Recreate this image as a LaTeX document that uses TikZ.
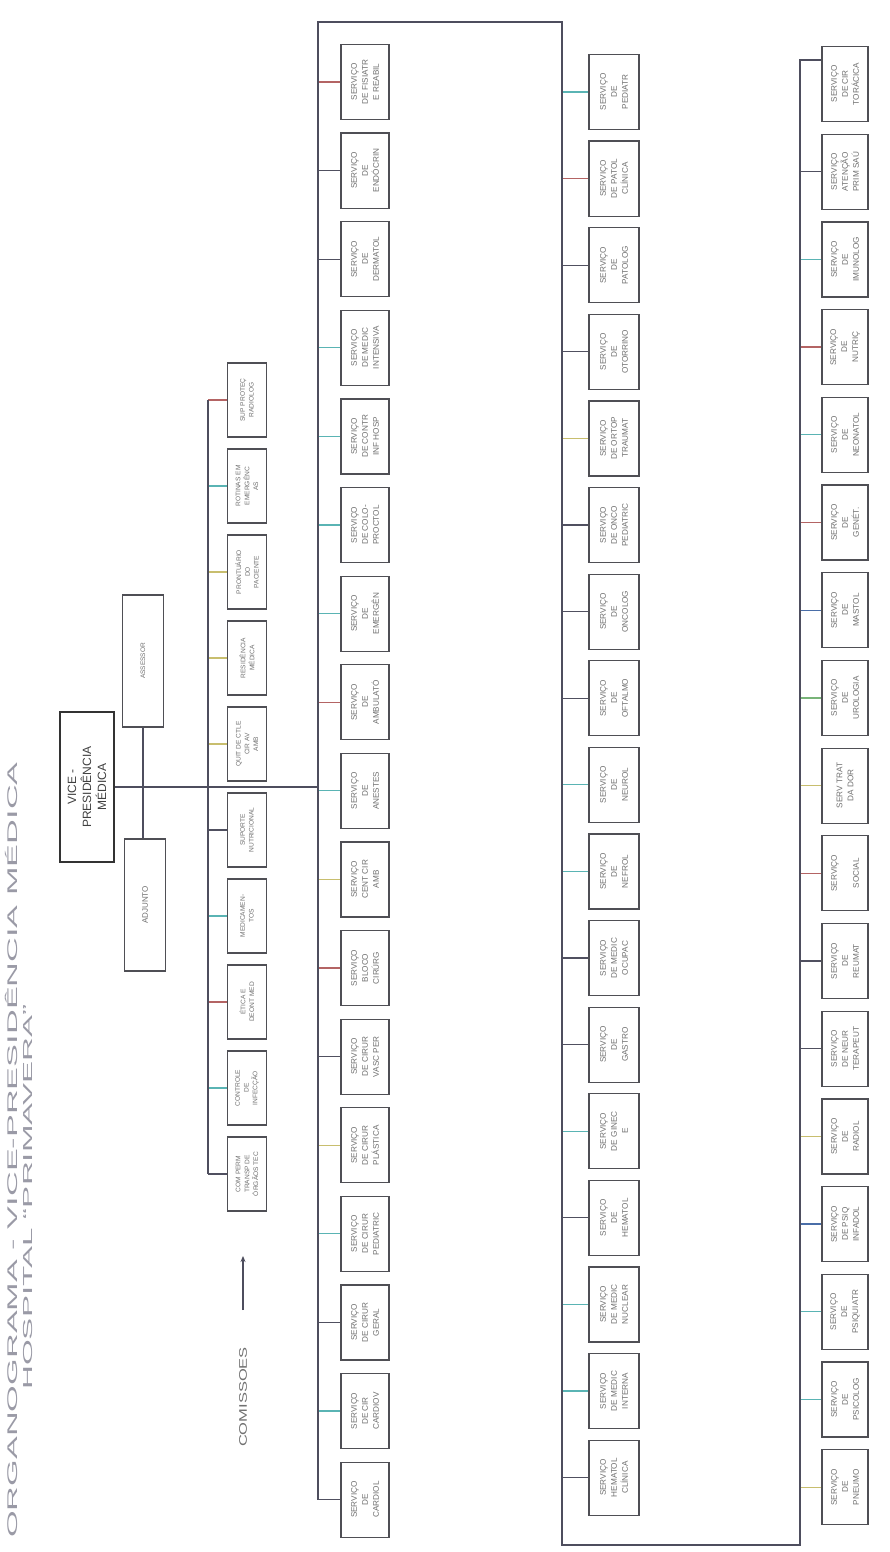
\documentclass[tikz,border=0pt]{standalone}
\usepackage{fontspec}
\setmainfont{Liberation Sans}
\usepackage{graphicx}
\usetikzlibrary{arrows.meta}
\definecolor{cT}{HTML}{5AB4B4}
\definecolor{cR}{HTML}{B46464}
\definecolor{cY}{HTML}{C8BE6E}
\definecolor{cD}{HTML}{505060}
\definecolor{cB}{HTML}{4A6EA8}
\definecolor{cG}{HTML}{78B478}
\definecolor{boxc}{HTML}{4F4F55}
\definecolor{txtc}{HTML}{707070}
\definecolor{lnc}{HTML}{4E4E5E}
\definecolor{titc}{HTML}{9A9AA6}
\begin{document}
\begin{tikzpicture}[x=1pt,y=-1pt,
 every node/.style={inner sep=0pt},
 box/.style={draw=boxc, line width=1.2pt, rotate=90, align=center, text=txtc, font=\fontsize{8.2}{11}\selectfont, minimum width=75pt, minimum height=46pt},
 cbox/.style={box, minimum width=74pt, minimum height=39pt, font=\fontsize{6.6}{8.8}\selectfont},
 trunk/.style={draw=lnc, line width=1.3pt},
 stub/.style={line width=1.3pt}]
\fill[white] (0,0) rectangle (890,1552);
\useasboundingbox (0,0) rectangle (890,1552);

% title
\node[rotate=90, text=titc, font=\fontsize{14}{14}\selectfont] (title1) at (11,1150) {\scalebox{2.45}[1]{ORGANOGRAMA - VICE-PRESIDÊNCIA MÉDICA}};
\node[rotate=90, text=titc, font=\fontsize{13}{13}\selectfont] (title2) at (28,1197) {\scalebox{2.55}[1]{HOSPITAL “PRIMAVERA”}};

% top management
\node[box, line width=2.4pt, draw=black!80, text=black!75, minimum width=150pt, minimum height=54pt, font=\fontsize{12}{15}\selectfont] (vp) at (87,787) {VICE -\\PRESIDÊNCIA\\MÉDICA};
\node[box, minimum width=132pt, minimum height=41pt, font=\fontsize{6.5}{8}\selectfont] (ass) at (143,661) {ASSESSOR};
\node[box, minimum width=132pt, minimum height=41pt, font=\fontsize{8}{10}\selectfont] (adj) at (145,905) {ADJUNTO};
\draw[trunk] (ass.west) -- (ass.west |- adj.east);

% coordinates of the trunks
\coordinate (cbar) at (208,400);
\coordinate (t1) at (318,22);
\coordinate (t2) at (562,22);
\coordinate (b2) at (562,1545);
\coordinate (b3) at (800,1545);
\coordinate (t3) at (800,60);

\draw[trunk] (vp.south) -- (vp.south -| t1);

% commissions
\foreach \ii/\txt/\col in {1/SUP PROTEÇ\\RADIOLOG/cR, 2/ROTINAS EM\\EMERGÊNC\\AS/cT, 3/PRONTUÁRIO\\DO\\PACIENTE/cY, 4/RESIDÊNCIA\\MÉDICA/cY, 5/QUIT DE CTLE\\CIR AV\\AMB/cY, 6/SUPORTE\\NUTRICIONAL/cD, 7/MEDICAMEN-\\TOS/cT, 8/ÉTICA E\\DEONT MED/cR, 9/CONTROLE\\DE\\INFECÇÃO/cT, 10/COM PERM\\TRANSP DE\\ÓRGÃOS TEC/cD}{
  \pgfmathsetmacro\yy{400+86*(\ii-1)}
  \node[cbox] (cm\ii) at (247,\yy) {\txt};
  \draw[stub, draw=\col] (cm\ii.north -| cbar) -- (cm\ii.north);
}
\draw[trunk] (cm1.north -| cbar) -- (cm10.north -| cbar);

\node[rotate=90, text=txtc, font=\fontsize{11}{11}\selectfont] (com) at (243,1397) {\scalebox{1.5}[1]{COMISSOES}};
\coordinate (arrtail) at (243,1310);
\coordinate (arrtip) at (243,1256);
\draw[line width=1.2pt, draw=lnc, -{Stealth[length=6pt,width=5pt]}] (arrtail) -- (arrtip);

% row 1
\foreach \ii/\txt/\col in {1/SERVIÇO\\DE FISIATR\\E REABIL/cR, 2/SERVIÇO\\DE\\ENDÓCRIN/cD, 3/SERVIÇO\\DE\\DERMATOL/cD, 4/SERVIÇO\\DE MEDIC\\INTENSIVA/cT, 5/SERVIÇO\\DE CONTR\\INF HOSP/cT, 6/SERVIÇO\\DE COLO-\\PROCTOL/cT, 7/SERVIÇO\\DE\\EMERGÊN/cT, 8/SERVIÇO\\DE\\AMBULATÓ/cR, 9/SERVIÇO\\DE\\ANESTES/cT, 10/SERVIÇO\\CENT CIR\\AMB/cY, 11/SERVIÇO\\BLOCO\\CIRÚRG/cR, 12/SERVIÇO\\DE CIRUR\\VASC PER/cD, 13/SERVIÇO\\DE CIRUR\\PLÁSTICA/cY, 14/SERVIÇO\\DE CIRUR\\PEDIATRIC/cT, 15/SERVIÇO\\DE CIRUR\\GERAL/cD, 16/SERVIÇO\\DE CIR\\CARDIOV/cT, 17/SERVIÇO\\DE\\CARDIOL/cD}{
  \pgfmathsetmacro\yy{82+88.6*(\ii-1)}
  \node[box, minimum height=48pt] (ra\ii) at (365,\yy) {\txt};
  \draw[stub, draw=\col] (ra\ii.north -| t1) -- (ra\ii.north);
}

% row 2
\foreach \ii/\txt/\col in {1/SERVIÇO\\DE\\PEDIATR/cT, 2/SERVIÇO\\DE PATOL\\CLÍNICA/cR, 3/SERVIÇO\\DE\\PATOLOG/cD, 4/SERVIÇO\\DE\\OTORRINO/cD, 5/SERVIÇO\\DE ORTOP\\TRAUMAT/cY, 6/SERVIÇO\\DE ONCO\\PEDIATRIC/cD, 7/SERVIÇO\\DE\\ONCOLOG/cD, 8/SERVIÇO\\DE\\OFTALMO/cD, 9/SERVIÇO\\DE\\NEUROL/cT, 10/SERVIÇO\\DE\\NEFROL/cT, 11/SERVIÇO\\DE MEDIC\\OCUPAC/cD, 12/SERVIÇO\\DE\\GASTRO/cD, 13/SERVIÇO\\DE GINEC\\E/cT, 14/SERVIÇO\\DE\\HEMATOL/cD, 15/SERVIÇO\\DE MEDIC\\NUCLEAR/cT, 16/SERVIÇO\\DE MEDIC\\INTERNA/cT, 17/SERVIÇO\\HEMATOL\\CLÍNICA/cD}{
  \pgfmathsetmacro\yy{92+86.6*(\ii-1)}
  \node[box, minimum height=50pt] (rb\ii) at (614,\yy) {\txt};
  \draw[stub, draw=\col] (rb\ii.north -| t2) -- (rb\ii.north);
}

% row 3
\foreach \ii/\txt/\col in {1/SERVIÇO\\DE CIR\\TORÁCICA/cT, 2/SERVIÇO\\ATENÇÃO\\PRIM SAÚ/cD, 3/SERVIÇO\\DE\\IMUNOLOG/cT, 4/SERVIÇO\\DE\\NUTRIÇ/cR, 5/SERVIÇO\\DE\\NEONATOL/cT, 6/SERVIÇO\\DE\\GENÉT./cR, 7/SERVIÇO\\DE\\MASTOL/cB, 8/SERVIÇO\\DE\\UROLOGIA/cG, 9/SERV TRAT\\DA DOR/cY, 10/SERVIÇO\\~\\SOCIAL/cR, 11/SERVIÇO\\DE\\REUMAT/cD, 12/SERVIÇO\\DE NEUR\\TERAPEUT/cD, 13/SERVIÇO\\DE\\RADIOL/cY, 14/SERVIÇO\\DE PSIQ\\INFADOL/cB, 15/SERVIÇO\\DE\\PSIQUIATR/cT, 16/SERVIÇO\\DE\\PSICOLOG/cT, 17/SERVIÇO\\DE\\PNEUMO/cY}{
  \pgfmathsetmacro\yy{84+87.7*(\ii-1)}
  \node[box] (rc\ii) at (845,\yy) {\txt};
  \ifnum\ii>1 \draw[stub, draw=\col] (rc\ii.north -| b3) -- (rc\ii.north);\fi
}

% serpentine trunk
\draw[trunk] (ra17.north -| t1) -- (t1) -- (t2) -- (b2) -- (b3) -- (t3) -- (t3 -| rc1.north);
\end{tikzpicture}
\end{document}
